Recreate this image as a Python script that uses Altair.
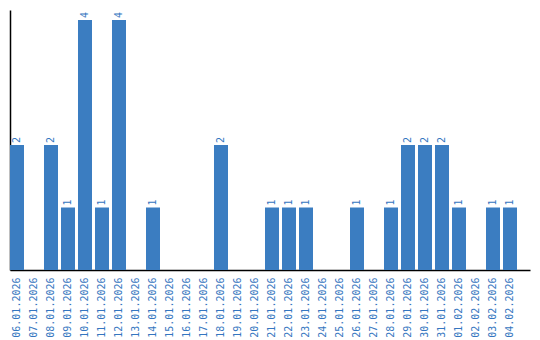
import altair as alt
import pandas as pd

dates = ["06.01.2026", "07.01.2026", "08.01.2026", "09.01.2026", "10.01.2026",
         "11.01.2026", "12.01.2026", "13.01.2026", "14.01.2026", "15.01.2026",
         "16.01.2026", "17.01.2026", "18.01.2026", "19.01.2026", "20.01.2026",
         "21.01.2026", "22.01.2026", "23.01.2026", "24.01.2026", "25.01.2026",
         "26.01.2026", "27.01.2026", "28.01.2026", "29.01.2026", "30.01.2026",
         "31.01.2026", "01.02.2026", "02.02.2026", "03.02.2026", "04.02.2026"]
counts = [2, 0, 2, 1, 4, 1, 4, 0, 1, 0, 0, 0, 2, 0, 0,
          1, 1, 1, 0, 0, 1, 0, 1, 2, 2, 2, 1, 0, 1, 1]

df = pd.DataFrame({"date": dates, "count": counts})

BAR = "#3b7dc1"
TXT = "#3576c0"
FONT = "DejaVu Sans Mono"

x = alt.X("date:N", sort=dates, title=None,
          scale=alt.Scale(paddingInner=3/17, paddingOuter=0.3824, align=0),
          axis=alt.Axis(labelAngle=270, labelAlign="right", labelBaseline="middle",
                        labelColor=TXT, labelFont=FONT, labelFontSize=10,
                        labelPadding=7, ticks=False, domainColor="#000000",
                        domainWidth=1.5, labelOverlap=False))
y = alt.Y("count:Q", title=None,
          scale=alt.Scale(domain=[0, 4.16], nice=False),
          axis=alt.Axis(labels=False, ticks=False, grid=False,
                        domainColor="#000000", domainWidth=1.5))

bars = alt.Chart(df).mark_bar(color=BAR).encode(x=x, y=y)
text = alt.Chart(df).transform_filter("datum.count > 0").mark_text(
    angle=270, align="left", baseline="middle", dx=2,
    color=TXT, font=FONT, fontSize=10
).encode(x=alt.X("date:N", sort=dates), y="count:Q", text="count:Q")

chart = (bars + text).properties(
    width=520, height=260,
    autosize=alt.AutoSizeParams(type="none"),
    padding={"left": 10, "top": 10, "right": 10, "bottom": 70},
).configure(background="white").configure_view(strokeWidth=0, stroke="transparent")

chart.save("out.html", embed_options={"renderer": "svg", "actions": False})
